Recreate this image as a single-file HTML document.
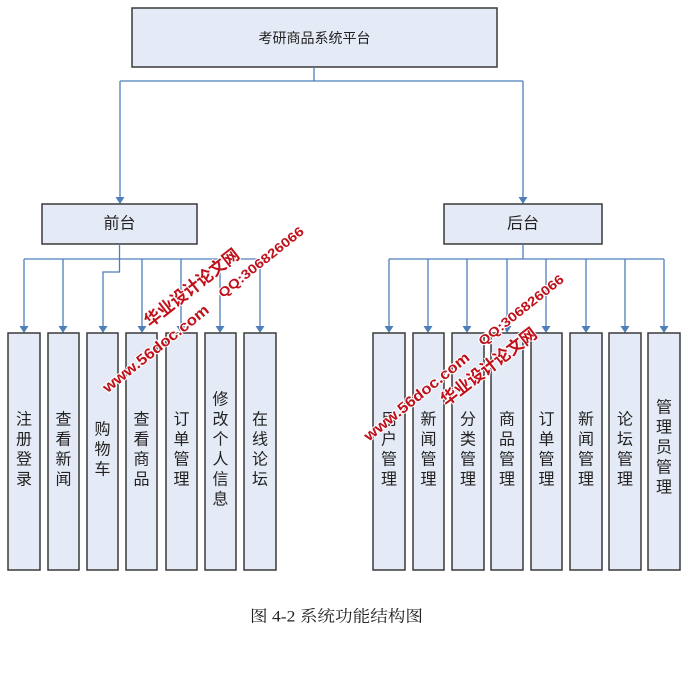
<!DOCTYPE html>
<html><head><meta charset="utf-8">
<style>
html,body{margin:0;padding:0;background:#fff;}
svg{display:block;}
.bx{fill:#e5ebf6;stroke:#3a3a3a;stroke-width:1.5;}
.ln{stroke:#4f7fbb;stroke-width:1.3;fill:none;}
.ah{fill:#4f7fbb;}
.t{font-family:"Liberation Sans","Noto Sans CJK SC",sans-serif;fill:#222;text-anchor:middle;dominant-baseline:central;}
.wm{font-family:"Liberation Sans","Noto Sans CJK SC",sans-serif;font-weight:bold;fill:#c0101a;stroke:#fff;stroke-width:2;paint-order:stroke;text-anchor:middle;dominant-baseline:central;}
</style></head>
<body>
<svg width="688" height="680" viewBox="0 0 688 680" xmlns="http://www.w3.org/2000/svg">
<!-- top box -->
<rect class="bx" x="132" y="8" width="365" height="59"/>
<text class="t" x="314.5" y="38" font-size="14">考研商品系统平台</text>
<!-- top connectors -->
<path class="ln" d="M314 67 V81 M120 81 H523 M120 81 V198 M523 81 V198"/>
<polygon class="ah" points="115.5,197 124.5,197 120,204"/>
<polygon class="ah" points="518.5,197 527.5,197 523,204"/>
<!-- level 2 boxes -->
<rect class="bx" x="42" y="204" width="155" height="40"/>
<text class="t" x="119.5" y="224" font-size="16">前台</text>
<rect class="bx" x="444" y="204" width="158" height="40"/>
<text class="t" x="523" y="224" font-size="16">后台</text>
<!-- left connectors -->
<path class="ln" d="M119.5 244 V272 H103 V327 M24 259 H260 M24 259 V327 M63 259 V327 M142 259 V327 M181 259 V327 M220 259 V327 M260 259 V327"/>
<g class="ah">
<polygon points="19.5,326 28.5,326 24,333"/>
<polygon points="58.5,326 67.5,326 63,333"/>
<polygon points="98.5,326 107.5,326 103,333"/>
<polygon points="137.5,326 146.5,326 142,333"/>
<polygon points="176.5,326 185.5,326 181,333"/>
<polygon points="215.5,326 224.5,326 220,333"/>
<polygon points="255.5,326 264.5,326 260,333"/>
</g>
<!-- right connectors -->
<path class="ln" d="M523 244 V259 M389 259 H664 M389 259 V327 M428 259 V327 M467 259 V327 M507 259 V327 M546 259 V327 M586 259 V327 M625 259 V327 M664 259 V327"/>
<g class="ah">
<polygon points="384.5,326 393.5,326 389,333"/>
<polygon points="423.5,326 432.5,326 428,333"/>
<polygon points="462.5,326 471.5,326 467,333"/>
<polygon points="502.5,326 511.5,326 507,333"/>
<polygon points="541.5,326 550.5,326 546,333"/>
<polygon points="581.5,326 590.5,326 586,333"/>
<polygon points="620.5,326 629.5,326 625,333"/>
<polygon points="659.5,326 668.5,326 664,333"/>
</g>
<!-- left child boxes -->
<g>
<rect class="bx" x="8" y="333" width="32" height="237"/>
<rect class="bx" x="48" y="333" width="31" height="237"/>
<rect class="bx" x="87" y="333" width="31" height="237"/>
<rect class="bx" x="126" y="333" width="31" height="237"/>
<rect class="bx" x="166" y="333" width="31" height="237"/>
<rect class="bx" x="205" y="333" width="31" height="237"/>
<rect class="bx" x="244" y="333" width="32" height="237"/>
</g>
<g class="t" font-size="16">
<text x="24" y="420">注</text><text x="24" y="440">册</text><text x="24" y="460">登</text><text x="24" y="480">录</text>
<text x="63.5" y="420">查</text><text x="63.5" y="440">看</text><text x="63.5" y="460">新</text><text x="63.5" y="480">闻</text>
<text x="102.5" y="430">购</text><text x="102.5" y="450">物</text><text x="102.5" y="470">车</text>
<text x="141.5" y="420">查</text><text x="141.5" y="440">看</text><text x="141.5" y="460">商</text><text x="141.5" y="480">品</text>
<text x="181.5" y="420">订</text><text x="181.5" y="440">单</text><text x="181.5" y="460">管</text><text x="181.5" y="480">理</text>
<text x="220.5" y="400">修</text><text x="220.5" y="420">改</text><text x="220.5" y="440">个</text><text x="220.5" y="460">人</text><text x="220.5" y="480">信</text><text x="220.5" y="500">息</text>
<text x="260" y="420">在</text><text x="260" y="440">线</text><text x="260" y="460">论</text><text x="260" y="480">坛</text>
</g>
<!-- right child boxes -->
<g>
<rect class="bx" x="373" y="333" width="32" height="237"/>
<rect class="bx" x="413" y="333" width="31" height="237"/>
<rect class="bx" x="452" y="333" width="32" height="237"/>
<rect class="bx" x="491" y="333" width="32" height="237"/>
<rect class="bx" x="531" y="333" width="31" height="237"/>
<rect class="bx" x="570" y="333" width="32" height="237"/>
<rect class="bx" x="609" y="333" width="32" height="237"/>
<rect class="bx" x="648" y="333" width="32" height="237"/>
</g>
<g class="t" font-size="16">
<text x="389" y="420">用</text><text x="389" y="440">户</text><text x="389" y="460">管</text><text x="389" y="480">理</text>
<text x="428.5" y="420">新</text><text x="428.5" y="440">闻</text><text x="428.5" y="460">管</text><text x="428.5" y="480">理</text>
<text x="468" y="420">分</text><text x="468" y="440">类</text><text x="468" y="460">管</text><text x="468" y="480">理</text>
<text x="507" y="420">商</text><text x="507" y="440">品</text><text x="507" y="460">管</text><text x="507" y="480">理</text>
<text x="546.5" y="420">订</text><text x="546.5" y="440">单</text><text x="546.5" y="460">管</text><text x="546.5" y="480">理</text>
<text x="586" y="420">新</text><text x="586" y="440">闻</text><text x="586" y="460">管</text><text x="586" y="480">理</text>
<text x="625" y="420">论</text><text x="625" y="440">坛</text><text x="625" y="460">管</text><text x="625" y="480">理</text>
<text x="664" y="408">管</text><text x="664" y="428">理</text><text x="664" y="448">员</text><text x="664" y="468">管</text><text x="664" y="488">理</text>
</g>
<!-- watermarks -->
<g class="wm">
<text transform="translate(156,349) rotate(-38.5)" font-size="15" textLength="131" lengthAdjust="spacingAndGlyphs">www.56doc.com</text>
<text transform="translate(192,288) rotate(-38)" font-size="17" textLength="115" lengthAdjust="spacingAndGlyphs">华业设计论文网</text>
<text transform="translate(261,262) rotate(-38.5)" font-size="13" textLength="105" lengthAdjust="spacingAndGlyphs">QQ:306826066</text>
<text transform="translate(417,397) rotate(-39)" font-size="15" textLength="131" lengthAdjust="spacingAndGlyphs">www.56doc.com</text>
<text transform="translate(489,367) rotate(-37.5)" font-size="17" textLength="116" lengthAdjust="spacingAndGlyphs">华业设计论文网</text>
<text transform="translate(521,310) rotate(-38.5)" font-size="13" textLength="105" lengthAdjust="spacingAndGlyphs">QQ:306826066</text>
</g>
<!-- caption -->
<text x="250" y="617" font-size="16" font-family="'Liberation Serif','Noto Serif CJK SC',serif" fill="#222" dominant-baseline="central" textLength="173" lengthAdjust="spacingAndGlyphs">图 4-2 系统功能结构图</text>
</svg>
</body></html>
